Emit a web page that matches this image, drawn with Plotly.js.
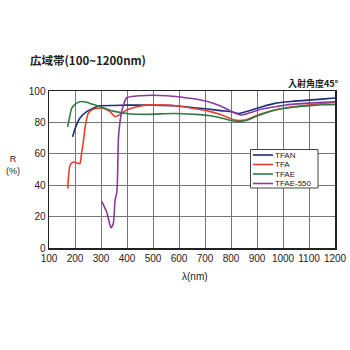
<!DOCTYPE html>
<html><head><meta charset="utf-8">
<script src="https://cdn.plot.ly/plotly-3.0.1.min.js"></script>
<style>body{margin:0;background:#fff}#c{width:350px;height:350px}</style>
</head><body><div id="c"></div>
<script>
const tfanX = [191, 200, 220, 245, 270, 296, 350, 400, 500, 585, 650, 713, 760, 803, 828, 880, 920, 969, 1030, 1096, 1150, 1200];
const tfanY = [70.8, 76, 83, 86.8, 89, 90.6, 90.8, 91, 91, 90.6, 89.5, 88.5, 87.5, 86.8, 85.7, 87.9, 90, 92.1, 93.3, 94.2, 94.8, 95.5];

const tfaX = [172, 181, 193, 210, 219, 225, 232, 240, 251, 265, 283, 309, 335, 354, 373, 399, 440, 476, 553, 585, 650, 713, 760, 815, 854, 900, 969, 1030, 1096, 1150, 1200];
const tfaY = [37.8, 52.7, 54.8, 54, 53.8, 60, 67.6, 78, 85.7, 88, 88.9, 89.1, 86.8, 83.6, 85.1, 87.9, 90, 91, 91, 90.6, 89, 87.2, 85, 81.5, 81.5, 84.5, 87.9, 89.8, 91, 92, 92.8];

const tfaeX = [172, 180, 187, 200, 219, 240, 258, 296, 347, 399, 476, 578, 662, 720, 770, 803, 854, 900, 969, 1030, 1096, 1150, 1200];
const tfaeY = [77.2, 84, 88.9, 91.5, 93.2, 93, 92.1, 90, 87.2, 85.7, 85.1, 85.7, 85.1, 84.2, 82.5, 81, 81, 84, 87.9, 89.5, 90.5, 91.2, 91.5];

const tfae550X = [303, 312, 322, 330, 338, 347, 354, 357, 360, 363, 367, 373, 380, 386, 399, 450, 553, 585, 650, 713, 760, 803, 841, 880, 918, 970, 1033, 1100, 1150, 1200];
const tfae550Y = [29.7, 26.5, 22.9, 17.5, 12.9, 15.4, 30.4, 33, 34.6, 42, 69.8, 80.4, 87, 91, 95.7, 97, 97, 96.5, 95.2, 93.2, 90.5, 86.8, 84.7, 86.5, 88.5, 90, 91.5, 92.3, 92.8, 93.2];

const xTicks = [100, 200, 300, 400, 500, 600, 700, 800, 900, 1000, 1100, 1200];
const yTicks = [0, 20, 40, 60, 80, 100];

const names = ['TFAN', 'TFA', 'TFAE', 'TFAE-550'];
const colors = ['#1c2f7a', '#e5402f', '#2f7a45', '#8a3a9c'];
const xs = [tfanX, tfaX, tfaeX, tfae550X];
const ys = [tfanY, tfaY, tfaeY, tfae550Y];

const data = names.map((n, i) => ({
  x: xs[i], y: ys[i], name: n, type: 'scatter', mode: 'lines', showlegend: false,
  line: {color: colors[i], width: 1.6, shape: 'spline', smoothing: 0.6}
}));

const font = 'Liberation Sans, Arial, sans-serif';

// manual compact legend (paper coordinates)
const W = 286, H = 157, L = 49, T = 91;
const px = v => (v - L) / W;
const py = v => (T + H - v) / H;
const shapes = [{type: 'rect', xref: 'paper', yref: 'paper',
  x0: px(250.5), x1: px(318), y0: py(188), y1: py(149.5),
  fillcolor: '#fff', line: {color: '#444', width: 1}, layer: 'above'}];
const annotations = [];
const rowY = [155, 164.5, 174, 183.5];
names.forEach((n, i) => {
  shapes.push({type: 'line', xref: 'paper', yref: 'paper',
    x0: px(253), x1: px(273), y0: py(rowY[i]), y1: py(rowY[i]),
    line: {color: colors[i], width: 1.6}, layer: 'above'});
  annotations.push({text: n, xref: 'paper', yref: 'paper', x: px(274), y: py(rowY[i]),
    xanchor: 'left', yanchor: 'middle', showarrow: false, borderpad: 0,
    font: {family: font, size: 8, color: '#222'}});
});

annotations.push(
  {text: '<b>広域帯(100~1200nm)</b>', xref: 'paper', yref: 'paper', x: -0.075, y: 1.2,
    xanchor: 'left', yanchor: 'middle', showarrow: false,
    font: {family: 'Noto Sans CJK JP', size: 11.5, color: '#222'}},
  {text: '<b>入射角度45°</b>', xref: 'paper', yref: 'paper', x: 1.02, y: 1.045,
    xanchor: 'right', yanchor: 'middle', showarrow: false,
    font: {family: 'Noto Sans CJK JP', size: 9, color: '#222'}},
  {text: 'R<br>(%)', xref: 'paper', yref: 'paper', x: -0.125, y: 0.53,
    xanchor: 'center', yanchor: 'middle', showarrow: false,
    font: {family: font, size: 9, color: '#222'}},
  {text: 'λ(nm)', xref: 'paper', yref: 'paper', x: 0.51, y: -0.18,
    xanchor: 'center', yanchor: 'middle', showarrow: false,
    font: {family: font, size: 10, color: '#222'}}
);

const layout = {
  width: 350, height: 350,
  margin: {l: 49, r: 15, t: 91, b: 102},
  paper_bgcolor: '#fff', plot_bgcolor: '#fff',
  showlegend: false,
  xaxis: {range: [100, 1200], tickvals: xTicks, ticktext: xTicks.map(String),
    showgrid: true, gridcolor: '#777', gridwidth: 1, zeroline: false,
    showline: true, linecolor: '#222', linewidth: 1.5, mirror: true, ticks: '',
    tickfont: {family: font, size: 10, color: '#222'}},
  yaxis: {range: [0, 100], tickvals: yTicks, ticktext: yTicks.map(String),
    showgrid: true, gridcolor: '#777', gridwidth: 1, zeroline: false,
    showline: true, linecolor: '#222', linewidth: 1.5, mirror: true, ticks: '',
    tickfont: {family: font, size: 10, color: '#222'}},
  shapes: shapes,
  annotations: annotations
};
Plotly.newPlot('c', data, layout, {staticPlot: true, displayModeBar: false});
</script></body></html>
